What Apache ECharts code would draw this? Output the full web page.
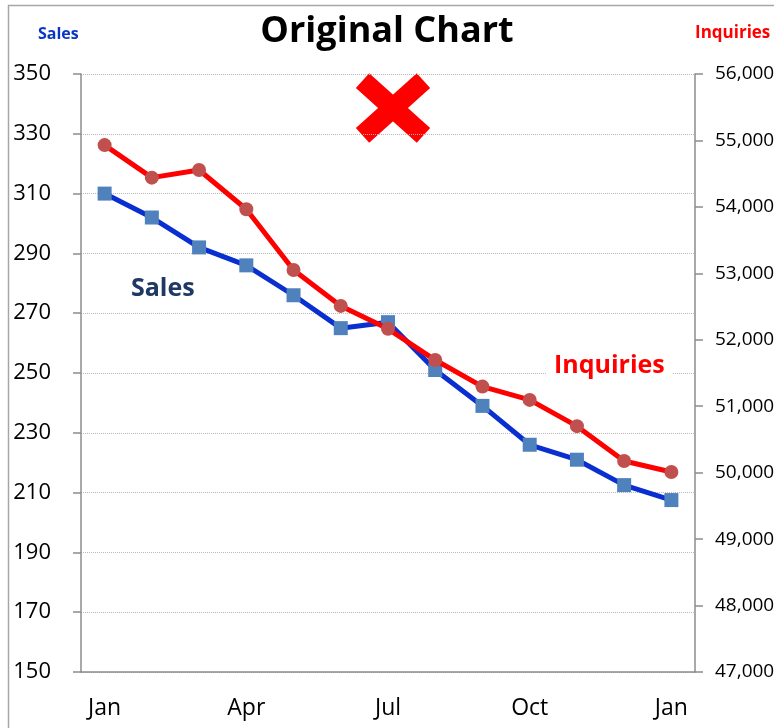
<!DOCTYPE html>
<html>
<head>
<meta charset="utf-8">
<script src="https://cdn.jsdelivr.net/npm/echarts@6/dist/echarts.min.js"></script>
<style>
  html, body { margin: 0; padding: 0; background: #fff; }
  #main { width: 774px; height: 728px; }
</style>
</head>
<body>
<div id="main"></div>
<script>
var months = ['Jan', 'Feb', 'Mar', 'Apr', 'May', 'Jun', 'Jul', 'Aug', 'Sep', 'Oct', 'Nov', 'Dec', 'Jan'];
var sales = [310, 302, 292, 286, 276, 265, 267, 251, 239, 226, 221, 212.5, 207.5];
var inquiries = [54930, 54440, 54555, 53965, 53050, 52510, 52165, 51695, 51295, 51095, 50700, 50175, 50010];

var chartDom = document.getElementById('main');
var myChart = echarts.init(chartDom);
var font = '"Open Sans", "Noto Sans", sans-serif';
var axisGray = '#8c8c8c';

var option = {
  animation: false,
  textStyle: { fontFamily: font },
  grid: { left: 81, right: 79, top: 74, bottom: 56, outerBoundsMode: 'none', containLabel: false },
  title: {
    text: 'Original Chart',
    left: 'center',
    top: 9,
    textStyle: { fontSize: 36, fontWeight: 'bold', color: '#000', fontFamily: font }
  },
  xAxis: {
    type: 'category',
    data: months,
    boundaryGap: true,
    axisLine: { lineStyle: { color: axisGray, width: 1.5 } },
    axisTick: { show: false },
    axisLabel: { interval: 2, fontSize: 23, color: '#000', margin: 25 }
  },
  yAxis: [
    {
      type: 'value',
      min: 150,
      max: 350,
      interval: 20,
      axisLine: { show: true, lineStyle: { color: axisGray, width: 1.5 } },
      axisTick: { show: true, inside: false, length: 8, lineStyle: { color: axisGray, width: 1.5 } },
      axisLabel: { fontSize: 22, color: '#000', margin: 30, align: 'right' },
      splitLine: { show: true, lineStyle: { color: '#b8b8b8', type: 'dotted', width: 1 } }
    },
    {
      type: 'value',
      min: 47000,
      max: 56000,
      interval: 1000,
      position: 'right',
      axisLine: { show: true, lineStyle: { color: axisGray, width: 1.5 } },
      axisTick: { show: true, length: 8, lineStyle: { color: axisGray, width: 1.5 } },
      axisLabel: {
        fontSize: 19, color: '#000', margin: 20, align: 'left',
        formatter: function (v) { return v.toLocaleString('en-US'); }
      },
      splitLine: { show: false }
    }
  ],
  series: [
    {
      name: 'Sales',
      type: 'line',
      yAxisIndex: 0,
      data: sales,
      symbol: 'rect',
      symbolSize: 14,
      lineStyle: { color: '#0a2fd0', width: 5 },
      itemStyle: { color: '#4f81bd' },
      z: 2
    },
    {
      name: 'Inquiries',
      type: 'line',
      yAxisIndex: 1,
      data: inquiries,
      symbol: 'circle',
      symbolSize: 14,
      lineStyle: { color: '#ff0000', width: 5 },
      itemStyle: { color: '#c0504d' },
      z: 3
    }
  ],
  graphic: [
    // outer chart border
    { type: 'rect', shape: { x: 8.5, y: 5.5, width: 800, height: 800 }, style: { fill: 'none', stroke: '#a6a6a6', lineWidth: 1.5 }, z: 0, silent: true },
    // axis captions
    { type: 'text', left: 38, top: 26, style: { text: 'Sales', font: 'bold 16px ' + font, fill: '#0a36c8' }, z: 10 },
    { type: 'text', left: 695, top: 25, style: { text: 'Inquiries', font: 'bold 17px ' + font, fill: '#ff0000' }, z: 10 },
    // in-plot labels
    { type: 'text', left: 123, top: 274, style: { text: 'Sales', font: 'bold 25px ' + font, fill: '#1f3864', backgroundColor: '#fff', padding: [2, 8] }, z: 10 },
    { type: 'text', left: 546, top: 351, style: { text: 'Inquiries', font: 'bold 25px ' + font, fill: '#ff0000', backgroundColor: '#fff', padding: [2, 8] }, z: 10 },
    // red X mark
    {
      type: 'group', x: 393, y: 108, z: 20,
      children: [
        { type: 'rect', rotation: 0.733, shape: { x: -41, y: -10, width: 82, height: 20 }, style: { fill: '#ff0000' } },
        { type: 'rect', rotation: -0.733, shape: { x: -41, y: -10, width: 82, height: 20 }, style: { fill: '#ff0000' } }
      ]
    }
  ]
};

option && myChart.setOption(option);
</script>
</body>
</html>
